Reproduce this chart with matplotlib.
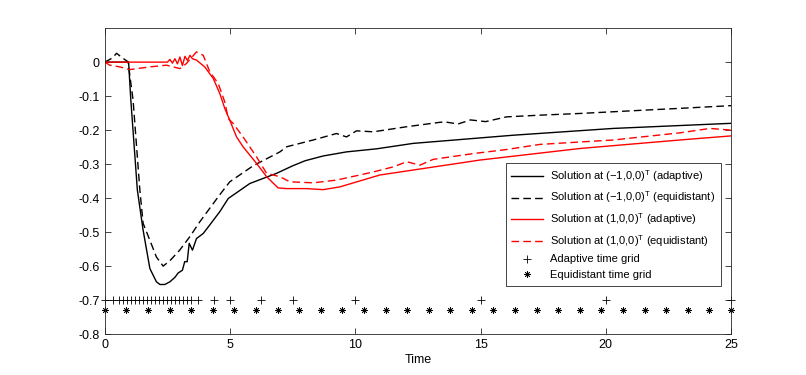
import matplotlib
matplotlib.use("Agg")
import matplotlib.pyplot as plt

plt.rcParams["font.family"] = ["Liberation Sans", "DejaVu Sans"]
plt.rcParams["mathtext.default"] = "regular"
plt.rcParams["axes.unicode_minus"] = False

# Solution at (-1,0,0)^T, adaptive
x_neg_adapt = [0, 0.5, 0.95, 1.04, 1.3, 1.53, 1.8, 2.06, 2.2, 2.4, 2.6, 2.8, 2.93, 3.1,
               3.19, 3.29, 3.37, 3.5, 3.66, 3.93, 4.19, 4.59, 4.93, 5.79, 6.86, 7.5,
               8.0, 8.72, 9.65, 10.85, 12.31, 16.3, 20.3, 25]
y_neg_adapt = [0, 0, 0, -0.112, -0.376, -0.494, -0.607, -0.646, -0.654, -0.654, -0.646,
               -0.633, -0.62, -0.612, -0.587, -0.587, -0.533, -0.553, -0.519, -0.504,
               -0.479, -0.44, -0.401, -0.357, -0.327, -0.305, -0.29, -0.276, -0.264,
               -0.255, -0.239, -0.215, -0.195, -0.18]

# Solution at (-1,0,0)^T, equidistant
x_neg_equi = [0, 0.3, 0.47, 0.73, 0.93, 1.13, 1.4, 1.53, 1.8, 2.06, 2.33, 2.6, 2.99,
              3.39, 3.79, 4.33, 4.59, 4.99, 5.92, 6.99, 7.26, 8.32, 9.25, 9.65, 10.05,
              10.72, 12.05, 13.38, 13.6, 14.1, 14.6, 15.2, 16.04, 17.37, 18.97, 21.6,
              22.96, 25]
y_neg_equi = [0, 0.012, 0.026, 0.011, 0.001, -0.112, -0.376, -0.474, -0.524, -0.573,
              -0.6, -0.584, -0.553, -0.514, -0.47, -0.416, -0.39, -0.352, -0.305,
              -0.264, -0.249, -0.229, -0.21, -0.22, -0.202, -0.205, -0.19, -0.177,
              -0.176, -0.182, -0.17, -0.175, -0.161, -0.156, -0.151, -0.141, -0.136,
              -0.128]

# Solution at (1,0,0)^T, adaptive
x_pos_adapt = [0, 2.5, 2.6, 2.7, 2.8, 2.9, 3.0, 3.1, 3.2, 3.3, 3.4, 3.5, 3.66, 3.99,
               4.33, 4.59, 4.79, 4.99, 5.26, 5.52, 6.06, 6.46, 6.92, 7.26, 8.05, 8.72,
               9.38, 10.98, 14.98, 18.97, 22.96, 25]
y_pos_adapt = [0, 0, 0.008, -0.003, 0.01, -0.005, 0.015, -0.01, 0.017, 0.005, 0.02,
               0.01, 0.006, -0.014, -0.048, -0.092, -0.136, -0.171, -0.22, -0.249,
               -0.298, -0.337, -0.37, -0.372, -0.372, -0.375, -0.367, -0.332, -0.288,
               -0.254, -0.229, -0.217]

# Solution at (1,0,0)^T, equidistant
x_pos_equi = [0, 0.2, 0.6, 1.0, 1.8, 2.46, 3.0, 3.26, 3.66, 3.93, 4.19, 4.53, 4.79,
              4.93, 5.12, 5.52, 6.06, 6.46, 6.99, 7.39, 8.32, 9.25, 10.18, 10.72,
              11.52, 12.05, 12.58, 13.11, 14.71, 16.04, 17.37, 20.3, 22.96, 24.16, 25]
y_pos_equi = [0, -0.009, -0.014, -0.022, -0.014, -0.009, -0.019, -0.004, 0.03, 0.02,
              -0.028, -0.063, -0.117, -0.166, -0.18, -0.22, -0.279, -0.327, -0.337,
              -0.352, -0.355, -0.347, -0.332, -0.323, -0.308, -0.293, -0.303, -0.286,
              -0.269, -0.257, -0.242, -0.229, -0.208, -0.195, -0.2]

# time grids
adaptive_grid = [0, 0.33, 0.57, 0.73, 0.89, 1.05, 1.21, 1.37, 1.53, 1.69, 1.85, 2.01,
                 2.17, 2.33, 2.49, 2.65, 2.81, 2.97, 3.13, 3.29, 3.46, 3.73, 4.35, 5.0,
                 6.25, 7.5, 10, 15, 20, 25]
equidistant_grid = [0, 0.862, 1.724, 2.586, 3.448, 4.31, 5.172, 6.034, 6.897, 7.759,
                    8.621, 9.483, 10.345, 11.207, 12.069, 12.931, 13.793, 14.655,
                    15.517, 16.379, 17.241, 18.103, 18.966, 19.828, 20.69, 21.552,
                    22.414, 23.276, 24.138, 25]
adaptive_level = -0.7
equidistant_level = -0.73

fig = plt.figure(figsize=(8.06, 3.75), dpi=100)
ax = fig.add_axes([0.13, 0.109, 0.777, 0.816])

dash = (5.5, 3)
ax.plot(x_neg_adapt, y_neg_adapt, "k-", lw=1.0,
        label="Solution at (\u22121,0,0)$^{T}$ (adaptive)")
ax.plot(x_neg_equi, y_neg_equi, "k--", lw=1.0, dashes=dash,
        label="Solution at (\u22121,0,0)$^{T}$ (equidistant)")
ax.plot(x_pos_adapt, y_pos_adapt, "-", color="red", lw=1.0,
        label="Solution at (1,0,0)$^{T}$ (adaptive)")
ax.plot(x_pos_equi, y_pos_equi, "--", color="red", lw=1.0, dashes=dash,
        label="Solution at (1,0,0)$^{T}$ (equidistant)")
ax.plot(adaptive_grid, [adaptive_level] * len(adaptive_grid), "k+", ls="none",
        ms=6, mew=0.6, label="Adaptive time grid", clip_on=False)
ax.plot(equidistant_grid, [equidistant_level] * len(equidistant_grid), ls="none",
        marker=(8, 2, 0), color="k", ms=4.5, mew=0.55, label="Equidistant time grid",
        clip_on=False)

ax.set_xlim(0, 25)
ax.set_ylim(-0.8, 0.1)
ax.set_xticks([0, 5, 10, 15, 20, 25])
ax.set_yticks([-0.8, -0.7, -0.6, -0.5, -0.4, -0.3, -0.2, -0.1, 0])
ax.set_yticklabels(["-0.8", "-0.7", "-0.6", "-0.5", "-0.4", "-0.3", "-0.2", "-0.1", "0"])
ax.tick_params(direction="in", top=True, right=True, length=4.5, width=0.6,
               labelsize=9, colors="#262626", labelcolor="black")
for s in ax.spines.values():
    s.set_linewidth(0.6)
    s.set_color("#262626")
ax.set_xlabel("Time", fontsize=9, labelpad=2)

leg = ax.legend(loc="lower left", bbox_to_anchor=(0.631, 0.14), fontsize=8,
                labelspacing=0.52, handlelength=2.9, handletextpad=0.6,
                borderpad=0.5, fancybox=False, framealpha=1, edgecolor="#262626")
leg.get_frame().set_linewidth(0.6)

fig.savefig("out.png", dpi=100, facecolor="white")
